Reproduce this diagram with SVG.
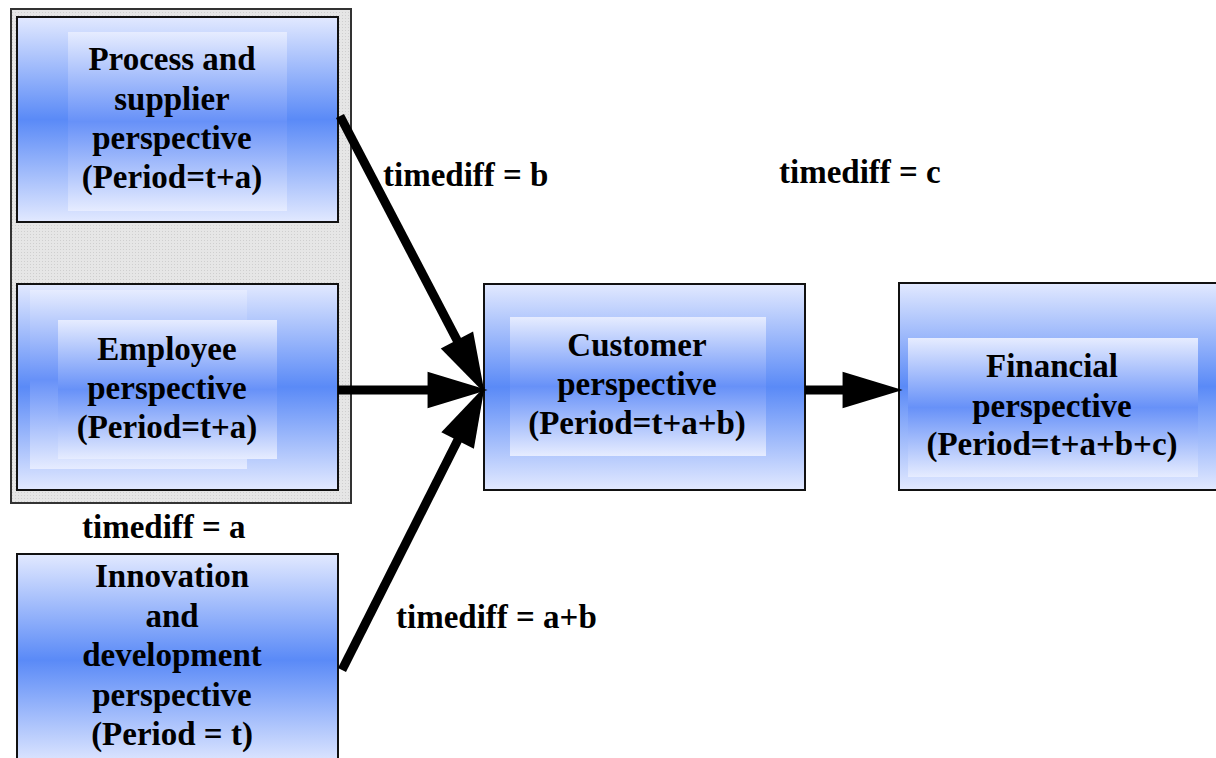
<svg xmlns="http://www.w3.org/2000/svg" width="1216" height="758" viewBox="0 0 1216 758">
  <defs>
    <linearGradient id="boxFill" x1="0" y1="0" x2="0" y2="1">
      <stop offset="0" stop-color="#e2e9ff"/>
      <stop offset="0.5" stop-color="#5a8af7"/>
      <stop offset="1" stop-color="#e2e9ff"/>
    </linearGradient>
    <linearGradient id="innerFill" x1="0" y1="0" x2="0" y2="1">
      <stop offset="0" stop-color="#e6ecff"/>
      <stop offset="0.5" stop-color="#6791f8"/>
      <stop offset="1" stop-color="#e6ecff"/>
    </linearGradient>
    <pattern id="stipple" width="3" height="3" patternUnits="userSpaceOnUse">
      <rect width="3" height="3" fill="#e6e6e6"/>
      <rect width="1" height="1" fill="#cfcfcf"/>
    </pattern>
    <!-- triangular head; its base sits 6px before the line end so the shaft is hidden inside -->
    <marker id="head" markerUnits="userSpaceOnUse" markerWidth="60" markerHeight="40" viewBox="0 0 56 34" refX="6" refY="17" orient="auto" overflow="visible">
      <path d="M0,0 L56,17 L0,34 Z" fill="#000"/>
    </marker>
  </defs>
  <style>
    .box { fill: url(#boxFill); stroke: #111; stroke-width: 2; }
    .inner { fill: url(#innerFill); stroke: none; }
    .label { font-family: "Liberation Serif", "Times New Roman", serif; font-weight: bold; font-size: 33px; fill: #000; }
    .mid { text-anchor: middle; }
    .link { stroke: #000; stroke-width: 9; fill: none; marker-end: url(#head); }
  </style>

  <rect width="1216" height="758" fill="#fff"/>

  <!-- grey frame grouping the two period t+a perspectives -->
  <g id="group-t-plus-a">
    <rect x="11" y="9" width="340" height="494" fill="url(#stipple)" stroke="#333" stroke-width="2"/>
  </g>

  <g id="process">
    <rect class="box" x="17" y="17" width="321" height="205"/>
    <rect class="inner" x="68" y="32" width="219" height="179"/>
    <text class="label mid" x="172" y="70">Process and</text>
    <text class="label mid" x="172" y="110">supplier</text>
    <text class="label mid" x="172" y="149">perspective</text>
    <text class="label mid" x="172" y="188">(Period=t+a)</text>
  </g>

  <g id="employee">
    <rect class="box" x="17" y="284" width="321" height="206"/>
    <rect class="inner" x="30" y="290" width="217" height="179"/>
    <rect class="inner" x="58" y="320" width="219" height="139"/>
    <text class="label mid" x="167" y="360">Employee</text>
    <text class="label mid" x="167" y="399">perspective</text>
    <text class="label mid" x="167" y="438">(Period=t+a)</text>
  </g>

  <g id="innovation">
    <rect class="box" x="17" y="554" width="321" height="212"/>
    <text class="label mid" x="172" y="587">Innovation</text>
    <text class="label mid" x="172" y="627">and</text>
    <text class="label mid" x="172" y="666">development</text>
    <text class="label mid" x="172" y="706">perspective</text>
    <text class="label mid" x="172" y="745">(Period = t)</text>
  </g>

  <g id="customer">
    <rect class="box" x="484" y="284" width="321" height="206"/>
    <rect class="inner" x="510" y="317" width="256" height="139"/>
    <text class="label mid" x="637" y="356">Customer</text>
    <text class="label mid" x="637" y="395">perspective</text>
    <text class="label mid" x="637" y="434">(Period=t+a+b)</text>
  </g>

  <g id="financial">
    <rect class="box" x="899" y="283" width="330" height="207"/>
    <rect class="inner" x="908" y="338" width="290" height="139"/>
    <text class="label mid" x="1052" y="377">Financial</text>
    <text class="label mid" x="1052" y="417">perspective</text>
    <text class="label mid" x="1052" y="455">(Period=t+a+b+c)</text>
  </g>

  <!-- each shaft stops 50px short of its tip; the marker supplies the head -->
  <g id="connectors">
    <line class="link" x1="340" y1="116" x2="459.9" y2="345.7"/>
    <line class="link" x1="338" y1="390" x2="434" y2="390"/>
    <line class="link" x1="342" y1="670" x2="460.5" y2="434.7"/>
    <line class="link" x1="805" y1="390" x2="849" y2="390"/>
  </g>

  <g id="time-labels">
    <text class="label" x="383" y="186">timediff = b</text>
    <text class="label" x="779" y="183">timediff = c</text>
    <text class="label" x="82" y="538">timediff = a</text>
    <text class="label" x="396" y="628">timediff = a+b</text>
  </g>
</svg>
